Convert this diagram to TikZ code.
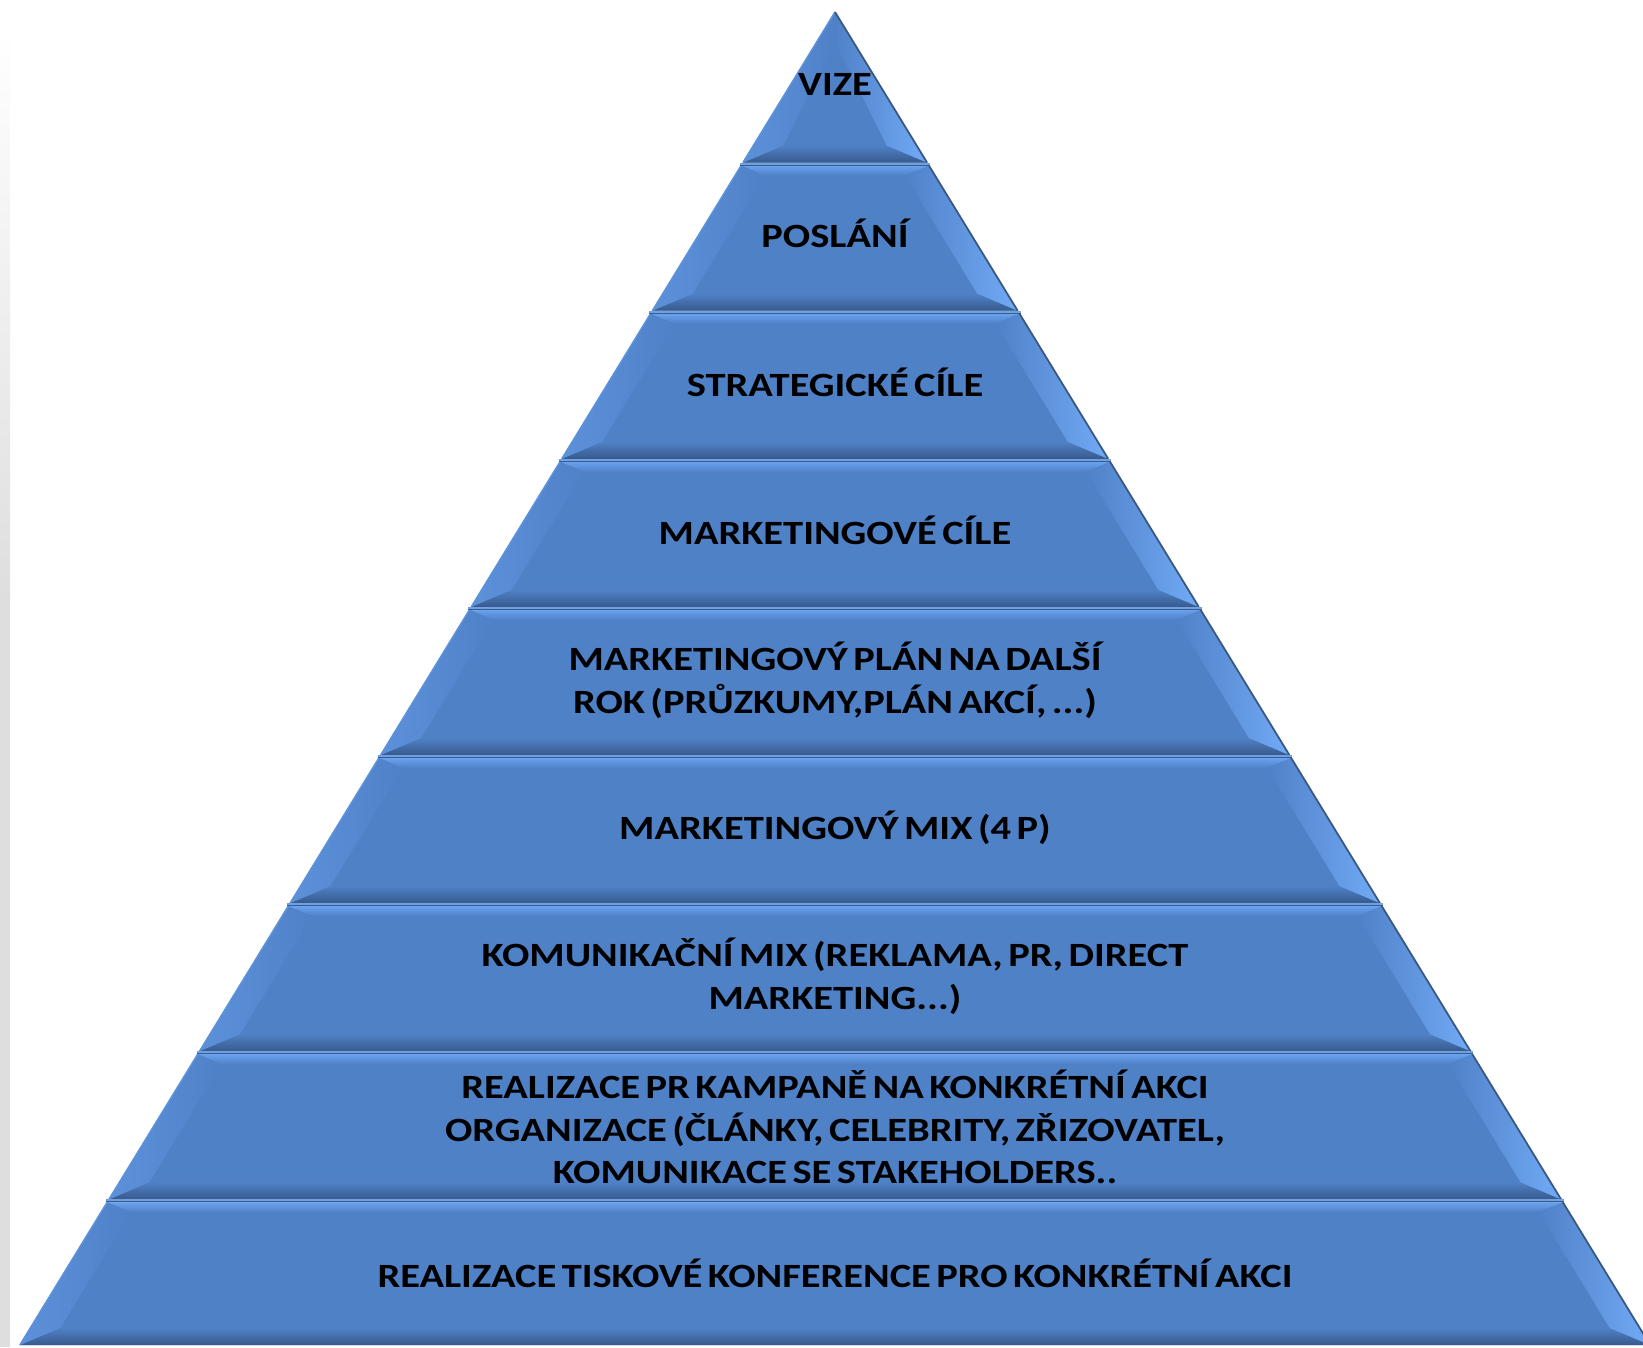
\documentclass[tikz,border=0pt]{standalone}
\usepackage{fontspec}
\setmainfont{Carlito}[FakeStretch=1.19,WordSpace=0.6]
\definecolor{base}{RGB}{79,129,199}
\definecolor{lite}{RGB}{106,162,238}
\definecolor{dark}{RGB}{56,90,140}
\definecolor{leftc}{RGB}{92,145,218}
\definecolor{rightc}{RGB}{114,170,246}
\definecolor{edgeD}{RGB}{58,88,130}
\definecolor{edgeL}{RGB}{92,146,220}
\definecolor{sepL}{RGB}{110,160,226}
\definecolor{sepD}{RGB}{58,92,140}
\definecolor{stripgray}{RGB}{222,222,222}
\tikzset{
  lbl/.style={font=\fontsize{34}{42.7}\selectfont\bfseries, text=black, align=center, inner sep=0pt},
}
\begin{document}
\begin{tikzpicture}[x=1pt,y=-1pt]
\useasboundingbox (0,0) rectangle (1643,1347);
\fill[white] (0,0) rectangle (1643,1347);
\shade[top color=white,bottom color=stripgray] (0,30) rectangle (10,600);
\fill[stripgray] (0,600) rectangle (10,1347);
\begin{scope}
\clip (0,0) rectangle (1643,1347);
\foreach \k in {0,...,8}{
  \pgfmathsetmacro\t{ifthenelse(\k==0,12,16+148.1*\k+1.5)}
  \pgfmathsetmacro\b{ifthenelse(\k==8,1345,16+148.1*(\k+1)-1.5)}
  \pgfmathsetmacro\ti{\t+ifthenelse(\k==0,30,10)}
  \pgfmathsetmacro\bi{\b-17}
  \pgfmathsetmacro\xlt{835-0.6115*(\t-12)}
  \pgfmathsetmacro\xrt{835+0.6115*(\t-12)}
  \pgfmathsetmacro\xlb{835-0.6115*(\b-12)}
  \pgfmathsetmacro\xrb{835+0.6115*(\b-12)}
  \pgfmathsetmacro\xlti{min(835,835-0.6115*(\ti-12)+30)}
  \pgfmathsetmacro\xrti{max(835,835+0.6115*(\ti-12)-30)}
  \pgfmathsetmacro\xlbi{835-0.6115*(\bi-12)+30}
  \pgfmathsetmacro\xrbi{835+0.6115*(\bi-12)-30}
  \fill[base] (\xlt,\t) -- (\xrt,\t) -- (\xrb,\b) -- (\xlb,\b) -- cycle;
  \ifnum\k>0
    \shade[top color=lite,bottom color=base] (\xlt,\t) -- (\xrt,\t) -- (\xrti,\ti) -- (\xlti,\ti) -- cycle;
  \fi
  \shade[top color=base,bottom color=dark] (\xlbi,\bi) -- (\xrbi,\bi) -- (\xrb,\b) -- (\xlb,\b) -- cycle;
  \shade[left color=leftc,right color=base] (\xlt,\t) -- (\xlti,\ti) -- (\xlbi,\bi) -- (\xlb,\b) -- cycle;
  \shade[left color=base,right color=rightc] (\xrt,\t) -- (\xrti,\ti) -- (\xrbi,\bi) -- (\xrb,\b) -- cycle;
  \draw[edgeL,line width=1.5] (\xlt,\t) -- (\xlb,\b);
  \draw[edgeD,line width=1.8] (\xrt,\t) -- (\xrb,\b);
}
\foreach \k in {1,...,8}{
  \pgfmathsetmacro\s{16+148.1*\k}
  \pgfmathsetmacro\xl{835-0.6115*(\s-12)-2}
  \pgfmathsetmacro\xr{835+0.6115*(\s-12)+2}
  \draw[sepL,line width=2] (\xl,\s-0.5) -- (\xr,\s-0.5);
  \draw[sepD,line width=1] (\xl,\s+1) -- (\xr,\s+1);
}
\end{scope}
\node[lbl] (l0) at (835,84) {VIZE};
\node[lbl] (l1) at (835,233) {POSLÁNÍ};
\node[lbl] (l2) at (835,382) {STRATEGICKÉ CÍLE};
\node[lbl] (l3) at (835,530) {MARKETINGOVÉ CÍLE};
\node[lbl] (l4) at (835,680) {MARKETINGOVÝ PLÁN NA DALŠÍ\\ROK (PRŮZKUMY,PLÁN AKCÍ, ...)};
\node[lbl] (l5) at (835,828) {MARKETINGOVÝ MIX (4 P)};
\node[lbl] (l6) at (835,976) {KOMUNIKAČNÍ MIX (REKLAMA, PR, DIRECT\\MARKETING...)};
\node[lbl] (l7) at (835,1127) {REALIZACE PR KAMPANĚ NA KONKRÉTNÍ AKCI\\ORGANIZACE (ČLÁNKY, CELEBRITY, ZŘIZOVATEL,\\KOMUNIKACE SE STAKEHOLDERS..};
\node[lbl] (l8) at (835,1273) {REALIZACE TISKOVÉ KONFERENCE PRO KONKRÉTNÍ AKCI};
\end{tikzpicture}
\end{document}
